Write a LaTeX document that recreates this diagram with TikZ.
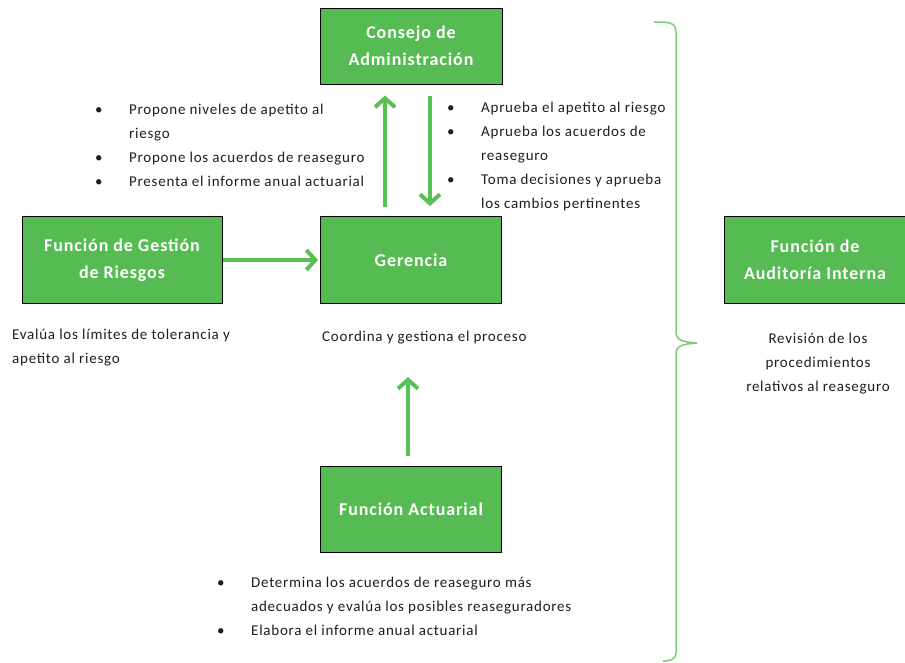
\documentclass[tikz,border=0pt]{standalone}
\usepackage{fontspec}
\setmainfont{Carlito}[LetterSpace=5]
\usetikzlibrary{arrows.meta,positioning}
\definecolor{boxgreen}{RGB}{86,187,82}
\definecolor{arrowgreen}{RGB}{88,192,84}
\definecolor{bracegreen}{RGB}{124,204,116}
\definecolor{darktext}{RGB}{30,30,30}
\newcommand{\bul}{\makebox[34pt][l]{\textbullet}}
\newcommand{\ind}{\hspace*{34pt}}

\begin{document}
\begin{tikzpicture}[x=1pt,y=-1pt]
  \tikzset{unit/.style={draw=black,line width=1pt,fill=boxgreen,text=white,
      font=\fontsize{18}{27}\selectfont\bfseries,align=center,inner sep=0pt}}
  \tikzset{note/.style={text=darktext,font=\fontsize{15}{24}\selectfont,inner sep=0pt}}
  \tikzset{flow/.style={-{Straight Barb[length=9pt,width=20pt]},draw=arrowgreen,line width=4pt}}
  \tikzset{brace/.style={draw=bracegreen,line width=1.5pt}}
  \useasboundingbox (0,0) rectangle (905,662);
  % boxes
  \node[unit,minimum width=182pt,minimum height=76pt] (consejo) at (411,46) {Consejo de\\Administración};
  \node[unit,minimum width=181pt,minimum height=87pt] (gerencia) at (411,260) {Gerencia};
  \node[unit,minimum width=200pt,minimum height=87pt] (gestion) at (122,260) {Función de Gestión\\de Riesgos};
  \node[unit,minimum width=182pt,minimum height=87pt] (auditoria) at (815,260) {Función de\\Auditoría Interna};
  \node[unit,minimum width=181pt,minimum height=86pt] (actuarial) at (411,509) {Función Actuarial};
  % texts
  \node[note,anchor=north west,align=left] (propone) at (95,104)
    {\bul Propone niveles de apetito al\\ \ind riesgo\\ \bul Propone los acuerdos de reaseguro\\ \bul Presenta el informe anual actuarial};
  \node[note,anchor=north west,align=left] (aprueba) at (447,102)
    {\bul Aprueba el apetito al riesgo\\ \bul Aprueba los acuerdos de\\ \ind reaseguro\\ \bul Toma decisiones y aprueba\\ \ind los cambios pertinentes};
  \node[note,anchor=north west,align=left] (evalua) at (12,329)
    {Evalúa los límites de tolerancia y\\apetito al riesgo};
  \node[note,anchor=west] (coordina) at (322,338) {Coordina y gestiona el proceso};
  \node[note,anchor=north,align=center] (revision) at (818,333)
    {Revisión de los\\procedimientos\\relativos al reaseguro};
  \node[note,anchor=north west,align=left] (determina) at (217,577)
    {\bul Determina los acuerdos de reaseguro más\\ \ind adecuados y evalúa los posibles reaseguradores\\ \bul Elabora el informe anual actuarial};
  % arrows
  \draw[flow] ([xshift=-26pt,yshift=9pt]gerencia.north) -- ([xshift=-26pt,yshift=-11pt]consejo.south);
  \draw[flow] ([xshift=19pt,yshift=-11pt]consejo.south) -- ([xshift=19pt,yshift=10pt]gerencia.north);
  \draw[flow,shorten >=2pt] (gestion.east) -- (gerencia.west);
  \draw[flow] ([xshift=-3pt,yshift=10pt]actuarial.north) -- ([xshift=-3pt,yshift=-73pt]gerencia.south);
  % brace
  \draw[brace] (654,22) .. controls (668,22) and (676,22) .. (676,32) -- (676,332)
    .. controls (676,340) and (682,342) .. (697,343)
    .. controls (682,344) and (676,346) .. (676,354) -- (676,652)
    .. controls (676,660) and (670,661) .. (663,661);
\end{tikzpicture}
\end{document}
